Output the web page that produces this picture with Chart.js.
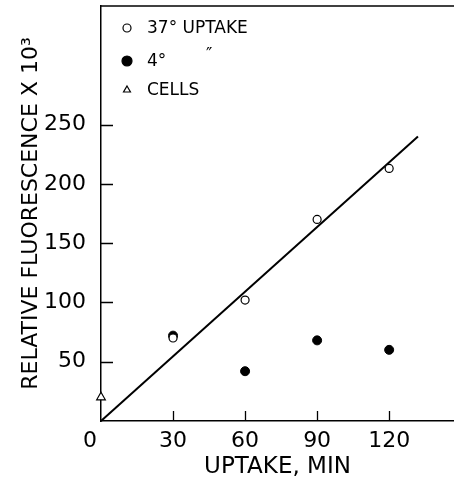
<!DOCTYPE html>
<html lang="en">
<head>
<meta charset="UTF-8">
<title>Uptake fluorescence</title>
<style>
  body { margin: 0; background: #ffffff; }
  #wrap { width: 454px; height: 485px; }
</style>
</head>
<body>
<div id="wrap"><canvas id="uptakePlot" width="454" height="485"></canvas></div>
<script src="https://cdn.jsdelivr.net/npm/chart.js"></script>
<script>
  var minutes = [30, 60, 90, 120];
  var warm = [70, 102, 170, 213];      // 37 deg uptake
  var cold = [72, 42, 68, 60];         // 4 deg
  var cellsX = [0];
  var cellsY = [20];
  var fitX = [0, 132];
  var fitY = [0, 240];
  var xTicks = [0, 30, 60, 90, 120];
  var yTicks = [50, 100, 150, 200, 250];
  var legendLabels = ['37° UPTAKE', '4°', 'CELLS'];

  function pts(xs, ys) {
    return xs.map(function(x, i) { return { x: x, y: ys[i] }; });
  }

  var FONT = 'DejaVu Sans';

  function noPad(scale) {
    scale.paddingTop = 0;
    scale.paddingBottom = 0;
    scale.paddingLeft = 0;
    scale.paddingRight = 0;
  }

  // inward tick marks, top frame and the legend inside the plot
  var extras = {
    id: 'extras',
    afterDraw: function(chart) {
      var ctx = chart.ctx;
      var a = chart.chartArea;
      var sx = chart.scales.x, sy = chart.scales.y;
      ctx.save();
      ctx.strokeStyle = '#000';
      ctx.lineWidth = 1.3;
      ctx.beginPath();
      xTicks.forEach(function(v) {
        if (v === 0) return;
        var px = Math.round(sx.getPixelForValue(v)) + 0.5;
        ctx.moveTo(px, a.bottom);
        ctx.lineTo(px, a.bottom - 10);
      });
      yTicks.forEach(function(v) {
        var py = Math.round(sy.getPixelForValue(v)) + 0.5;
        ctx.moveTo(a.left, py);
        ctx.lineTo(a.left + 12, py);
      });
      ctx.stroke();

      ctx.beginPath();
      ctx.lineWidth = 1.5;
      ctx.moveTo(a.left, a.top);
      ctx.lineTo(a.right, a.top);
      ctx.stroke();

      ctx.font = '17px "' + FONT + '"';
      ctx.textBaseline = 'middle';
      var rowY = [28, 61, 90];
      [0, 1, 2].forEach(function(i) {
        var ds = chart.data.datasets[i];
        ctx.lineWidth = 1.2;
        ctx.strokeStyle = '#000';
        ctx.fillStyle = ds.pointBackgroundColor;
        Chart.helpers.drawPoint(ctx, { pointStyle: ds.pointStyle, radius: i === 1 ? 5 : 4, borderWidth: 1.2 }, 127, rowY[i]);
        ctx.fillStyle = '#000';
        ctx.fillText(legendLabels[i], 147, rowY[i] + 1);
      });
      ctx.fillText('\u2033', 206, 56);
      ctx.restore();
    }
  };

  var ctx = document.getElementById('uptakePlot').getContext('2d');
  new Chart(ctx, {
    type: 'scatter',
    data: {
      datasets: [{
        label: legendLabels[0],
        data: pts(minutes, warm),
        pointStyle: 'circle',
        pointRadius: 4,
        pointBackgroundColor: '#ffffff',
        pointBorderColor: '#000000',
        pointBorderWidth: 1.2
      }, {
        label: legendLabels[1],
        data: pts(minutes, cold),
        pointStyle: 'circle',
        pointRadius: 4.5,
        pointBackgroundColor: '#000000',
        pointBorderColor: '#000000',
        pointBorderWidth: 1
      }, {
        label: legendLabels[2],
        data: pts(cellsX, cellsY),
        pointStyle: 'triangle',
        pointRadius: 5,
        pointBackgroundColor: '#ffffff',
        pointBorderColor: '#000000',
        pointBorderWidth: 1.2
      }, {
        label: 'fit',
        data: pts(fitX, fitY),
        showLine: true,
        borderColor: '#000000',
        borderWidth: 2,
        pointRadius: 0,
        order: 5
      }]
    },
    options: {
      responsive: false,
      animation: false,
      clip: false,
      layout: { autoPadding: false, padding: { top: 6, right: 0, left: 0, bottom: 0 } },
      plugins: {
        legend: { display: false },
        tooltip: { enabled: false }
      },
      scales: {
        x: {
          type: 'linear',
          min: 0,
          max: 147,
          afterBuildTicks: function(scale) {
            scale.ticks = xTicks.map(function(v) { return { value: v }; });
          },
          afterFit: function(scale) { scale.height = 64; noPad(scale); },
          border: { display: true, color: '#000', width: 1.5 },
          grid: { display: false },
          ticks: {
            color: '#000',
            font: { family: FONT, size: 22 },
            padding: -1,
            maxRotation: 0,
            callback: function(v) { return v === 0 ? '0\u2002\u2002' : String(v); }
          },
          title: {
            display: true,
            text: 'UPTAKE, MIN',
            color: '#000',
            font: { family: FONT, size: 23 },
            padding: { top: 0, bottom: 4 }
          }
        },
        y: {
          type: 'linear',
          min: 0,
          max: 350,
          afterBuildTicks: function(scale) {
            scale.ticks = yTicks.map(function(v) { return { value: v }; });
          },
          afterFit: function(scale) { scale.width = 101; noPad(scale); },
          border: { display: true, color: '#000', width: 1.5 },
          grid: { display: false },
          ticks: { color: '#000', font: { family: FONT, size: 22 }, padding: 7 },
          title: {
            display: true,
            text: 'RELATIVE FLUORESCENCE X 10\u00b3',
            color: '#000',
            font: { family: FONT, size: 22 },
            padding: { top: 18, bottom: 0 }
          }
        }
      }
    },
    plugins: [extras]
  });
</script>
</body>
</html>
